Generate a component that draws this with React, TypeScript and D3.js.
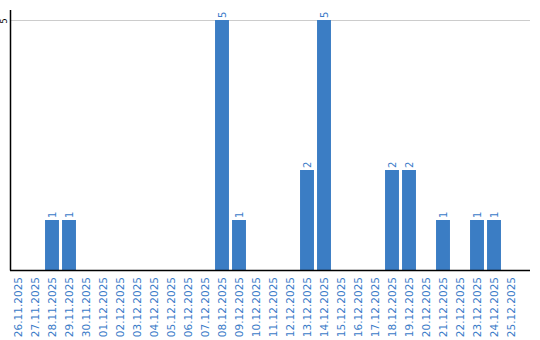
import React from "react";
import * as d3 from "d3";

const categories: string[] = [
  "26.11.2025", "27.11.2025", "28.11.2025", "29.11.2025", "30.11.2025",
  "01.12.2025", "02.12.2025", "03.12.2025", "04.12.2025", "05.12.2025",
  "06.12.2025", "07.12.2025", "08.12.2025", "09.12.2025", "10.12.2025",
  "11.12.2025", "12.12.2025", "13.12.2025", "14.12.2025", "15.12.2025",
  "16.12.2025", "17.12.2025", "18.12.2025", "19.12.2025", "20.12.2025",
  "21.12.2025", "22.12.2025", "23.12.2025", "24.12.2025", "25.12.2025",
];
const values: number[] = [
  0, 0, 1, 1, 0,
  0, 0, 0, 0, 0,
  0, 0, 5, 1, 0,
  0, 0, 2, 5, 0,
  0, 0, 2, 2, 0,
  1, 0, 1, 1, 0,
];
const yTicks: number[] = [5];

const W = 540;
const H = 340;
const left = 10.5;
const right = 530;
const top = 10;
const bottom = 270.5;
const barColor = "#3b7dc4";
const textColor = "#3a7bc8";
const font = "'DejaVu Sans', Verdana, sans-serif";

export default function App() {
  const x = d3.scaleBand<string>().domain(categories).range([9.5, 519.5]).paddingInner(0.18).paddingOuter(0.09);
  const y = d3.scaleLinear().domain([0, 5.2]).range([270, top]);
  return (
    <svg width={W} height={H} style={{ position: "absolute", left: 0, top: 0, background: "#fff" }}>
      {yTicks.map((t) => (
        <g key={t}>
          <line x1={left} x2={right} y1={Math.round(y(t)) + 0.5} y2={Math.round(y(t)) + 0.5} stroke="#cccccc" strokeWidth={1} />
          <text
            transform={`translate(4,${y(t) + 1}) rotate(-90)`}
            fontSize={8}
            fontFamily={font}
            textAnchor="middle"
            dy="0.35em"
            fill="#000"
          >
            {t}
          </text>
        </g>
      ))}
      {categories.map((c, i) => {
        const v = values[i];
        if (!v) return null;
        const bx = x(c)!;
        return (
          <g key={c}>
            <rect x={bx} y={y(v)} width={x.bandwidth()} height={y(0) - y(v)} fill={barColor} />
            <text
              transform={`translate(${bx + x.bandwidth() / 2},${y(v) - 2}) rotate(-90)`}
              fontSize={10}
              fontFamily={font}
              dy="0.35em"
              fill={textColor}
            >
              {v}
            </text>
          </g>
        );
      })}
      <line x1={left} x2={left} y1={top} y2={bottom} stroke="#000" strokeWidth={1.5} />
      <line x1={left - 0.5} x2={right} y1={bottom} y2={bottom} stroke="#000" strokeWidth={1.5} />
      {categories.map((c) => (
        <text
          key={c}
          transform={`translate(${x(c)! + x.bandwidth() / 2},277) rotate(-90)`}
          fontSize={10.5}
          fontFamily={font}
          textAnchor="end"
          dy="0.35em"
          fill={textColor}
        >
          {c}
        </text>
      ))}
    </svg>
  );
}
